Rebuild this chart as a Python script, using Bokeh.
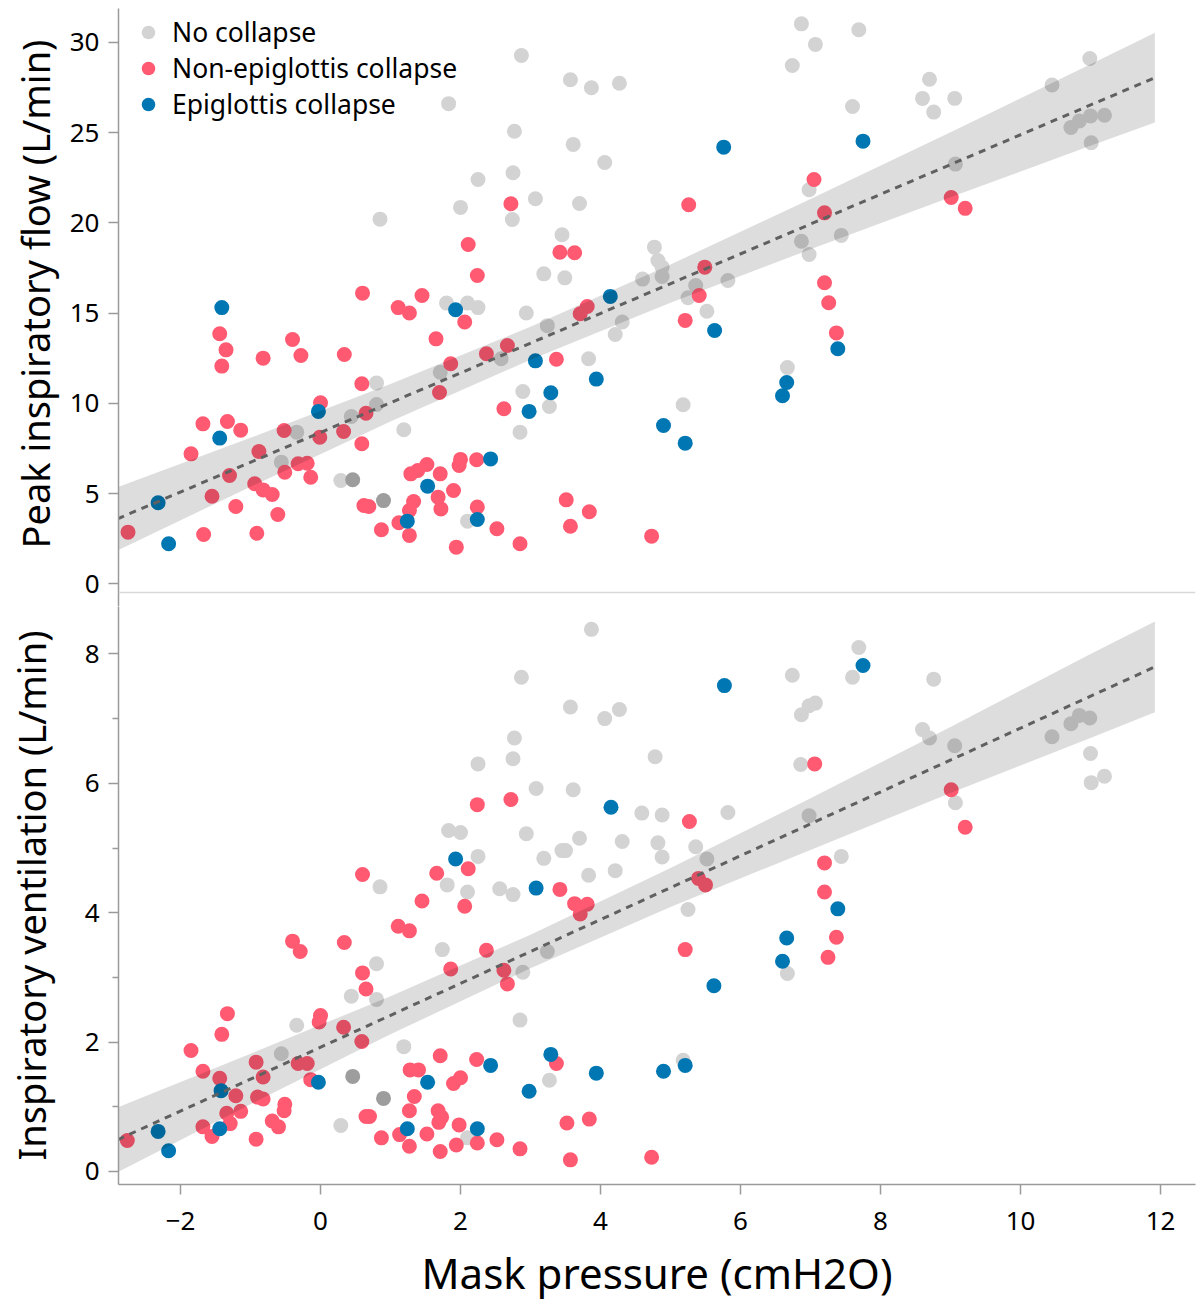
from bokeh.plotting import figure
from bokeh.models import Range1d, FixedTicker, Legend, LegendItem, Span, Title
from bokeh.layouts import column
from bokeh.embed import file_html
from bokeh.resources import INLINE

FONT = "Noto Sans"
GRAY = "#d3d3d3"
DARK = "#9d9d9d"
RED = "#ff5a72"
BLUE = "#0077b3"

# ---------------- data: top panel (Peak inspiratory flow, L/min) ----------------
top_nc_x = [0.85, 1.83, 2.0, 2.25, 1.8, 2.1, 2.25, 0.8, 0.8, 0.44, 1.19, -0.34, -0.56, 0.29, 2.1, 1.71,
            2.87, 3.57, 3.87, 4.27, 2.77, 3.61, 4.06, 2.75, 3.07, 3.7, 2.74, 3.45, 3.19, 3.49, 4.77, 4.82,
            4.88, 4.88, 4.6, 5.36, 5.82, 6.87, 7.07, 6.74, 7.69, 7.6, 6.98, 6.87, 7.44, 6.98,
            2.94, 3.24, 5.25, 4.31, 4.21, 5.52, 2.58, 3.83, 6.67, 2.89, 3.27, 2.85, 5.18,
            8.70, 8.6, 9.06, 8.76, 9.07, 10.45, 10.99, 10.72, 10.84, 11.0, 11.2, 11.01]
top_nc_y = [20.2, 26.6, 20.85, 22.4, 15.55, 15.55, 15.3, 11.13, 9.93, 9.27, 8.53, 8.4, 6.74, 5.72, 3.47, 11.72,
            29.27, 27.92, 27.48, 27.73, 25.07, 24.34, 23.34, 22.77, 21.33, 21.07, 20.18, 19.34, 17.17, 16.95, 18.65, 17.91,
            17.54, 17.02, 16.88, 16.52, 16.8, 31.02, 29.88, 28.71, 30.69, 26.44, 21.83, 18.98, 19.3, 18.24,
            15.0, 14.3, 15.85, 14.5, 13.81, 15.1, 12.47, 12.47, 11.98, 10.65, 9.82, 8.4, 9.92,
            27.95, 26.89, 26.89, 26.13, 23.25, 27.63, 29.1, 25.28, 25.64, 25.92, 25.96, 24.43]
top_nc_dup_x = [0.46, 0.9]
top_nc_dup_y = [5.76, 4.61]

top_ne_x = [2.11, 2.24, 0.6, 1.45, 1.11, 1.27, 2.06, -1.44, -1.35, -1.41, -0.4, -0.82, -0.28, 0.34, 1.65, 1.86,
            2.37, 2.62, 0.59, 0.65, 0.0, 0.33, -0.01, 0.59, -0.52, -1.68, -1.33, -1.14, -1.85, -0.88, -0.51, -0.32,
            -0.19, -0.14, -1.30, -1.55, -0.94, -0.82, -0.69, -1.21, -0.61, -2.75, -1.67, -0.91, 0.62, 0.69, 0.87,
            1.12, 1.27, 1.27, 1.33, 1.29, 1.39, 1.52, 1.68, 1.72, 1.71, 1.9, 1.94, 1.98, 2.0, 2.23, 2.24, 2.52, 1.7,
            2.72, 3.42, 3.63, 5.49, 5.41, 5.26, 7.05, 7.2, 7.2, 3.81, 3.71, 5.21, 7.26, 7.37, 2.67, 3.37,
            3.51, 3.84, 3.57, 2.85, 4.73, 9.01, 9.21]
top_ne_y = [18.8, 17.08, 16.1, 15.97, 15.3, 15.0, 14.5, 13.85, 12.96, 12.06, 13.53, 12.5, 12.65, 12.7, 13.57, 12.19,
            12.74, 9.7, 11.08, 9.45, 10.03, 8.44, 8.12, 7.76, 8.49, 8.86, 8.99, 8.51, 7.2, 7.33, 6.18, 6.65,
            6.68, 5.9, 6.0, 4.85, 5.54, 5.2, 4.95, 4.28, 3.84, 2.86, 2.73, 2.8, 4.34, 4.28, 2.99,
            3.38, 2.68, 4.06, 4.56, 6.09, 6.28, 6.61, 4.8, 4.15, 6.09, 5.17, 2.03, 6.55, 6.89, 6.87, 4.25, 3.05, 10.6,
            21.05, 18.37, 18.34, 17.54, 15.97, 21.0, 22.4, 20.55, 16.68, 15.36, 14.96, 14.59, 15.57, 13.9, 13.2, 12.44,
            4.65, 3.99, 3.19, 2.22, 2.64, 21.4, 20.8]

top_ep_x = [-1.41, 1.93, -0.03, -1.44, -2.32, -2.17, 1.24, 1.53, 2.43, 2.24, 5.76, 7.75, 4.14, 5.63, 7.39,
            3.07, 3.94, 6.66, 6.6, 3.29, 2.98, 4.9, 5.21]
top_ep_y = [15.3, 15.18, 9.55, 8.07, 4.49, 2.22, 3.47, 5.41, 6.92, 3.56, 24.19, 24.52, 15.92, 14.03, 13.02,
            12.35, 11.34, 11.15, 10.42, 10.58, 9.55, 8.77, 7.79]

# ---------------- data: bottom panel (Inspiratory ventilation, L/min) ----------------
bot_nc_x = [2.25, 1.83, 2.0, 2.25, 0.85, 1.81, 2.1, 2.56, 1.74, 0.8, 0.44, 0.8, -0.34, 1.19, -0.56, 0.29, 2.1,
            3.87, 2.87, 3.57, 4.06, 4.27, 6.74, 6.98, 7.07, 6.87, 7.69, 7.6, 2.77, 2.75, 4.78, 6.86, 3.08, 3.61,
            4.59, 4.88, 5.82, 6.98, 2.94, 3.7, 3.45, 3.5, 4.31, 4.82, 5.36, 3.19, 4.88, 5.52, 7.44, 3.83, 4.21,
            2.75, 5.25, 6.67, 3.24, 2.89, 2.85, 3.27, 5.18,
            8.76, 8.6, 8.7, 9.06, 9.07, 10.45, 10.72, 10.84, 10.99, 11.0, 11.01, 11.2]
bot_nc_y = [6.3, 5.27, 5.24, 4.87, 4.4, 4.43, 4.32, 4.37, 3.43, 3.21, 2.71, 2.66, 2.26, 1.93, 1.82, 0.71, 0.52,
            8.38, 7.64, 7.18, 7.0, 7.14, 7.67, 7.2, 7.24, 7.06, 8.1, 7.64, 6.7, 6.38, 6.41, 6.29, 5.92, 5.9,
            5.54, 5.51, 5.55, 5.5, 5.22, 5.15, 4.96, 4.96, 5.1, 5.08, 5.02, 4.84, 4.86, 4.83, 4.87, 4.58, 4.65,
            4.28, 4.05, 3.06, 3.4, 3.08, 2.34, 1.41, 1.72,
            7.61, 6.83, 6.7, 6.58, 5.7, 6.72, 6.92, 7.05, 7.01, 6.46, 6.01, 6.11]
bot_nc_dup_x = [0.46, 0.9]
bot_nc_dup_y = [1.47, 1.13]

bot_ne_x = [2.24, 2.11, 1.66, 0.6, 1.45, 2.06, 1.11, 1.27, -0.4, -0.29, 0.34, 2.37, 0.6, 0.65, 1.86, -1.33,
            -1.41, 0.0, -0.02, 0.33, 0.59, -1.85, -0.92, -0.32, -0.19, -0.82, -1.68, -1.44, -0.14, -1.21, -0.9,
            -0.82, -0.51, -0.52, -1.34, -1.14, -1.68, -1.55, -1.29, -0.69, -0.6, -0.92, -2.76, 0.65, 0.7, 0.87,
            1.13, 1.27, 1.27, 1.34, 1.28, 1.4, 1.71, 1.68, 1.73, 1.69, 1.52, 1.71, 1.9, 2.0, 1.98, 1.94, 2.23,
            2.24, 2.52,
            2.72, 5.27, 7.06, 7.2, 5.4, 5.5, 3.42, 7.2, 3.63, 3.81, 3.71, 7.37, 7.25, 5.21, 2.62, 2.67, 3.37,
            2.85, 3.52, 3.84, 3.57, 4.73, 9.01, 9.21]
bot_ne_y = [5.67, 4.68, 4.61, 4.59, 4.18, 4.1, 3.79, 3.72, 3.56, 3.4, 3.54, 3.42, 3.07, 2.82, 3.13, 2.44,
            2.12, 2.41, 2.31, 2.23, 2.01, 1.87, 1.69, 1.67, 1.67, 1.46, 1.55, 1.44, 1.42, 1.17, 1.15,
            1.12, 1.04, 0.94, 0.9, 0.93, 0.69, 0.54, 0.74, 0.78, 0.69, 0.5, 0.48, 0.85, 0.85, 0.52,
            0.57, 0.39, 0.94, 1.16, 1.57, 1.57, 1.79, 0.94, 0.84, 0.76, 0.58, 0.31, 1.36, 1.45, 0.72, 0.41, 1.73,
            0.44, 0.49,
            5.75, 5.41, 6.3, 4.77, 4.53, 4.43, 4.36, 4.32, 4.14, 4.13, 3.98, 3.62, 3.31, 3.43, 3.11, 2.9, 1.67,
            0.35, 0.75, 0.81, 0.18, 0.22, 5.9, 5.32]

bot_ep_x = [1.93, -0.03, -1.42, -1.44, -2.32, -2.17, 1.24, 1.53, 2.43, 2.24, 5.77, 7.75, 4.15, 3.08, 7.39,
            6.66, 6.6, 5.62, 3.29, 2.98, 3.94, 4.9, 5.21]
bot_ep_y = [4.83, 1.38, 1.25, 0.66, 0.62, 0.32, 0.66, 1.38, 1.64, 0.66, 7.51, 7.82, 5.63, 4.38, 4.06,
            3.61, 3.25, 2.87, 1.81, 1.24, 1.52, 1.55, 1.64]

# ---------------- regression lines and confidence bands ----------------
fit_x = [-2.9, 11.92]
fit_top = [3.60, 28.04]
fit_bot = [0.49, 7.80]

band_x = [-2.9, -1, 1, 3, 5, 7, 9, 11, 11.92]
band_top_lo = [1.85, 5.37, 8.99, 12.41, 15.57, 18.53, 21.42, 24.26, 25.56]
band_top_hi = [5.35, 8.09, 11.07, 14.24, 17.69, 21.31, 25.02, 28.78, 30.52]
band_bot_lo = [-0.01, 1.04, 2.12, 3.14, 4.09, 4.97, 5.85, 6.70, 7.10]
band_bot_hi = [0.99, 1.82, 2.71, 3.66, 4.69, 5.77, 6.87, 8.00, 8.50]

x_ticks = [-2, 0, 2, 4, 6, 8, 10, 12]
top_ticks = [0, 5, 10, 15, 20, 25, 30]
bot_ticks = [0, 2, 4, 6, 8]
bot_minor = [1, 3, 5, 7]

labels = ["No collapse", "Non-epiglottis collapse", "Epiglottis collapse"]
top_ylabel = "Peak inspiratory flow (L/min)"
bot_ylabel = "Inspiratory ventilation (L/min)"
x_label = "Mask pressure (cmH2O)"

W = 1198
AX = "#9a9a9a"


def style_yaxis(p, ticks, minor):
    ax = p.yaxis[0]
    ax.ticker = FixedTicker(ticks=ticks, minor_ticks=minor)
    ax.major_label_text_font = FONT
    ax.major_label_text_font_size = "26px"
    ax.major_label_text_color = "black"
    ax.major_label_standoff = 9
    ax.axis_line_color = AX
    ax.axis_line_width = 1.5
    ax.major_tick_line_color = AX
    ax.major_tick_line_width = 1.5
    ax.minor_tick_line_color = AX
    ax.minor_tick_line_width = 1.5
    ax.major_tick_out = 10
    ax.major_tick_in = 0
    ax.minor_tick_out = 6
    ax.minor_tick_in = 0
    return ax


def draw(p, nc_x, nc_y, dup_x, dup_y, ne_x, ne_y, ep_x, ep_y, lo, hi, fit_y):
    r_nc = p.scatter(nc_x, nc_y, size=15, color=GRAY, line_color=None)
    p.scatter(dup_x, dup_y, size=15, color=DARK, line_color=None)
    r_ne = p.scatter(ne_x, ne_y, size=15, color=RED, line_color=None)
    r_ep = p.scatter(ep_x, ep_y, size=15, color=BLUE, line_color=None)
    p.varea(x=band_x, y1=lo, y2=hi, fill_color="black", fill_alpha=0.135)
    p.line(fit_x, fit_y, line_color="#606060", line_width=3, line_dash="7 6")
    return r_nc, r_ne, r_ep


xr = Range1d(-2.886, 12.5)

# upper panel: frame from y=8 to y=606 (separator drawn at value -0.48)
p1 = figure(width=W, height=606, x_range=xr, y_range=Range1d(-1.258, 31.87),
            output_backend="svg", toolbar_location=None,
            min_border_left=118, min_border_right=3, min_border_top=8, min_border_bottom=0)
# lower panel: frame from y=606 to y=1184
p2 = figure(width=W, height=702, x_range=xr, y_range=Range1d(-0.201, 8.733),
            output_backend="svg", toolbar_location=None,
            min_border_left=118, min_border_right=3, min_border_top=0, min_border_bottom=124)

for p in (p1, p2):
    p.outline_line_color = None
    p.xgrid.visible = False
    p.ygrid.visible = False
    p.background_fill_color = "white"
    p.border_fill_color = "white"

p1.xaxis.visible = False
style_yaxis(p1, top_ticks, [])
ay2 = style_yaxis(p2, bot_ticks, bot_minor)

# upper y label as a side title (placed along the axis like the reference)
p1.add_layout(Title(text=top_ylabel, align="left", offset=58, standoff=12,
                    text_font=FONT, text_font_size="38px", text_font_style="normal",
                    text_color="black"), "left")

ay2.axis_label = bot_ylabel
ay2.axis_label_text_font = FONT
ay2.axis_label_text_font_size = "38px"
ay2.axis_label_text_font_style = "normal"
ay2.axis_label_text_color = "black"
ay2.axis_label_standoff = 25

xa = p2.xaxis[0]
xa.ticker = FixedTicker(ticks=x_ticks, minor_ticks=[])
xa.axis_label = x_label
xa.axis_label_text_font = FONT
xa.axis_label_text_font_size = "42px"
xa.axis_label_text_font_style = "normal"
xa.axis_label_text_color = "black"
xa.axis_label_standoff = 11
xa.major_label_text_font = FONT
xa.major_label_text_font_size = "26px"
xa.major_label_text_color = "black"
xa.major_label_standoff = 17
xa.axis_line_color = AX
xa.axis_line_width = 1.5
xa.major_tick_line_color = AX
xa.major_tick_line_width = 1.5
xa.major_tick_out = 10
xa.major_tick_in = 0

r1 = draw(p1, top_nc_x, top_nc_y, top_nc_dup_x, top_nc_dup_y, top_ne_x, top_ne_y, top_ep_x, top_ep_y,
          band_top_lo, band_top_hi, fit_top)
draw(p2, bot_nc_x, bot_nc_y, bot_nc_dup_x, bot_nc_dup_y, bot_ne_x, bot_ne_y, bot_ep_x, bot_ep_y,
     band_bot_lo, band_bot_hi, fit_bot)

# separator line between the two panels
p1.add_layout(Span(location=-0.48, dimension="width", line_color="#d8d8d8", line_width=1.5))

legend = Legend(items=[LegendItem(label=l, renderers=[r]) for l, r in zip(labels, r1)],
                location="top_left", background_fill_alpha=0, border_line_color=None,
                label_text_font=FONT, label_text_font_size="26.5px", label_text_color="black",
                glyph_width=48, glyph_height=34, label_standoff=0, spacing=0, padding=4, margin=6)
p1.add_layout(legend)

layout = column(p1, p2, spacing=0)
open("out.html", "w").write(file_html(layout, INLINE))
